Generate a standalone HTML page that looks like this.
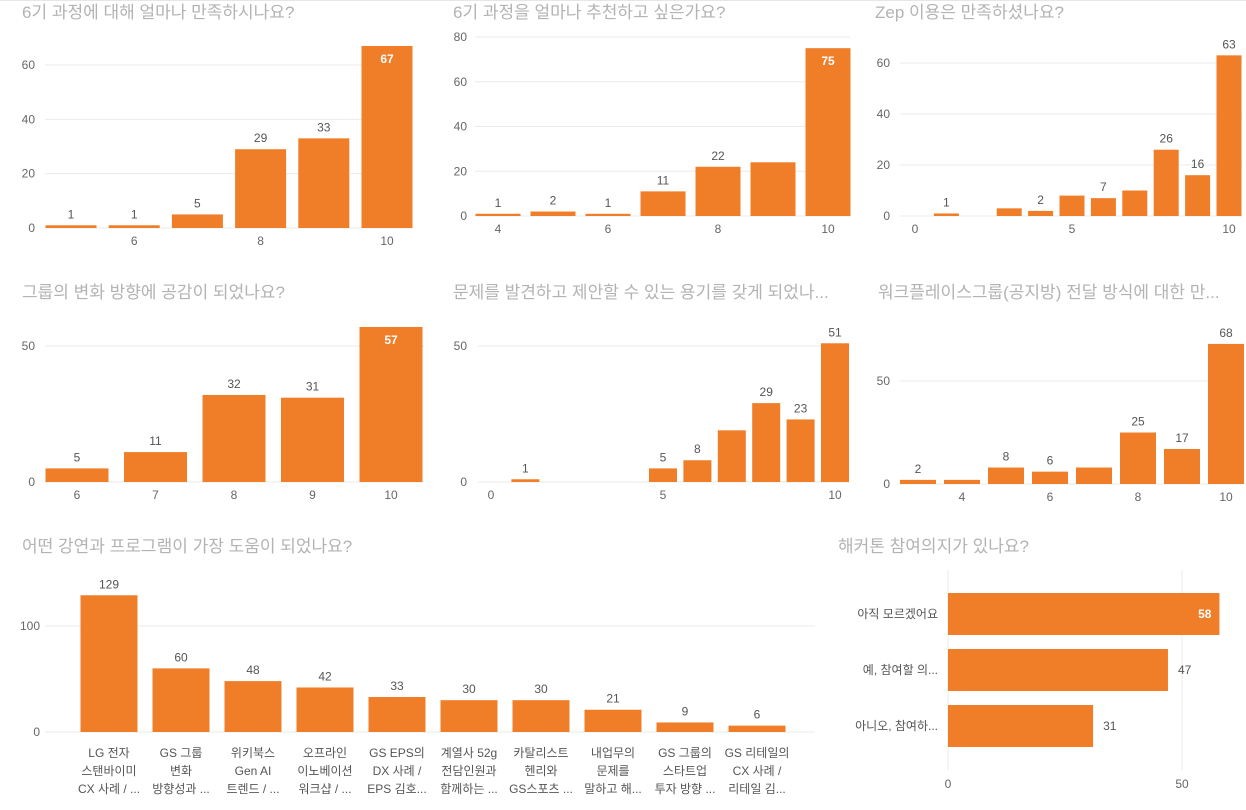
<!DOCTYPE html>
<html><head><meta charset="utf-8">
<style>
html,body{margin:0;padding:0;background:#fff;}
body{width:1246px;height:805px;overflow:hidden;font-family:"Liberation Sans","Noto Sans CJK KR",sans-serif;}
svg text{font-family:"Liberation Sans","Noto Sans CJK KR",sans-serif;}
</style></head>
<body>
<svg id="dash" width="1246" height="805" viewBox="0 0 1246 805" xmlns="http://www.w3.org/2000/svg">
<line x1="0" y1="0.5" x2="1246" y2="0.5" stroke="#e6e6e6"/>
</svg>
<script>
// ---- Chart data ----
const c1Cats = [5,6,7,8,9,10];
const c1Vals = [1,1,5,29,33,67];
const c1Ticks = [0,20,40,60];
const c1XLabels = [6,8,10];

const c2Cats = [4,5,6,7,8,9,10];
const c2Vals = [1,2,1,11,22,24,75];
const c2Show = [true,true,true,true,true,false,true];
const c2Ticks = [0,20,40,60,80];
const c2XLabels = [4,6,8,10];

const c3Cats = [0,1,2,3,4,5,6,7,8,9,10];
const c3Vals = [0,1,0,3,2,8,7,10,26,16,63];
const c3Show = [false,true,false,false,true,false,true,false,true,true,true];
const c3Ticks = [0,20,40,60];
const c3XLabels = [0,5,10];

const c4Cats = [6,7,8,9,10];
const c4Vals = [5,11,32,31,57];
const c4Ticks = [0,50];
const c4XLabels = [6,7,8,9,10];

const c5Cats = [0,1,2,3,4,5,6,7,8,9,10];
const c5Vals = [0,1,0,0,0,5,8,19,29,23,51];
const c5Show = [false,true,false,false,false,true,true,false,true,true,true];
const c5Ticks = [0,50];
const c5XLabels = [0,5,10];

const c6Cats = [3,4,5,6,7,8,9,10];
const c6Vals = [2,2,8,6,8,25,17,68];
const c6Show = [true,false,true,true,false,true,true,true];
const c6Ticks = [0,50];
const c6XLabels = [4,6,8,10];

const c7Cats = [
 ["LG 전자","스탠바이미","CX 사례 / ..."],
 ["GS 그룹","변화","방향성과 ..."],
 ["위키북스","Gen AI","트렌드 / ..."],
 ["오프라인","이노베이션","워크샵 / ..."],
 ["GS EPS의","DX 사례 /","EPS 김호..."],
 ["계열사 52g","전담인원과","함께하는 ..."],
 ["카탈리스트","헨리와","GS스포츠 ..."],
 ["내업무의","문제를","말하고 해..."],
 ["GS 그룹의","스타트업","투자 방향 ..."],
 ["GS 리테일의","CX 사례 /","리테일 김..."]];
const c7Vals = [129,60,48,42,33,30,30,21,9,6];
const c7Ticks = [0,100];

const c8Cats = ["아직 모르겠어요","예, 참여할 의...","아니오, 참여하..."];
const c8Vals = [58,47,31];
const c8Ticks = [0,50];

// ---- Drawing ----
const NS = "http://www.w3.org/2000/svg";
const svg = document.getElementById('dash');
const ORANGE = "#F07D28";
function mk(tag, attrs, txt){
  const e = document.createElementNS(NS, tag);
  for (const k in attrs) e.setAttribute(k, attrs[k]);
  if (txt !== undefined) e.textContent = txt;
  svg.appendChild(e);
  return e;
}
function title(x,y,t,name){
  const e = mk('text',{x:x,y:y,'font-size':17,fill:'#b3b3b3'},t);
  
  
}
function vbar(id, cats, vals, show, ticks, xlabels, g){
  const ys = v => g.y0 - v * g.k;
  const xs = c => g.x0 + (c - g.c0) * g.step;
  ticks.forEach(t => {
    const gl = mk('line',{x1:g.gx1,x2:g.gx2,y1:ys(t),y2:ys(t),stroke:'#ebebeb','stroke-width':1});
    
    
    const tl = mk('text',{x:g.yl,y:ys(t)+4,'font-size':12,fill:'#666','text-anchor':'end'},t);
    
    
  });
  cats.forEach((c,i) => {
    const v = vals[i];
    if (v <= 0) return;
    const r = mk('rect',{x:xs(c)-g.bw/2,y:ys(v),width:g.bw,height:v*g.k,fill:ORANGE});
    
    
    if (show && !show[i]) return;
    let inside = ys(v) < g.top;
    const lt = mk('text',{x:xs(c),y:inside?ys(v)+17:ys(v)-7,'font-size':12,'font-weight':inside?'bold':'normal',fill:inside?'#fff':'#555','text-anchor':'middle'},v);
    
    
  });
  xlabels.forEach(c => {
    const xl = mk('text',{x:xs(c),y:g.y0+17,'font-size':12,fill:'#666','text-anchor':'middle'},c);
    
    
  });
}

title(22,18,"6기 과정에 대해 얼마나 만족하시나요?","chart1-title");
vbar('c1',c1Cats,c1Vals,null,c1Ticks,c1XLabels,{x0:71,c0:5,step:63.2,bw:51,y0:228,k:163/60,gx1:45,gx2:412,yl:35,top:55});

title(453,18,"6기 과정을 얼마나 추천하고 싶은가요?","chart2-title");
vbar('c2',c2Cats,c2Vals,c2Show,c2Ticks,c2XLabels,{x0:498,c0:4,step:55,bw:45,y0:216,k:179/80,gx1:475,gx2:850,yl:467,top:55});

title(875,18,"Zep 이용은 만족하셨나요?","chart3-title");
vbar('c3',c3Cats,c3Vals,c3Show,c3Ticks,c3XLabels,{x0:915,c0:0,step:31.4,bw:25,y0:216,k:153/60,gx1:900,gx2:1242,yl:890,top:30});

title(22,298,"그룹의 변화 방향에 공감이 되었나요?","chart4-title");
vbar('c4',c4Cats,c4Vals,null,c4Ticks,c4XLabels,{x0:77,c0:6,step:78.5,bw:63,y0:482,k:136/50,gx1:45,gx2:424,yl:35,top:340});

title(453,298,"문제를 발견하고 제안할 수 있는 용기를 갖게 되었나...","chart5-title");
vbar('c5',c5Cats,c5Vals,c5Show,c5Ticks,c5XLabels,{x0:491,c0:0,step:34.4,bw:28,y0:482,k:136/50,gx1:478,gx2:850,yl:467,top:320});

title(878,298,"워크플레이스그룹(공지방) 전달 방식에 대한 만...","chart6-title");
vbar('c6',c6Cats,c6Vals,c6Show,c6Ticks,c6XLabels,{x0:918,c0:3,step:44,bw:36,y0:484,k:103/50,gx1:900,gx2:1242,yl:890,top:320});

title(22,552,"어떤 강연과 프로그램이 가장 도움이 되었나요?","chart7-title");
(function(){
  const y0=732, k=106/100, x0=109, step=72, bw=57;
  c7Ticks.forEach(t => {
    const gl = mk('line',{x1:45,x2:815,y1:y0-t*k,y2:y0-t*k,stroke:'#ebebeb'});
    
    
    const tl = mk('text',{x:40,y:y0-t*k+4,'font-size':12,fill:'#666','text-anchor':'end'},t);
    
    
  });
  c7Vals.forEach((v,i) => {
    const cx = x0 + i*step;
    const r = mk('rect',{x:cx-bw/2,y:y0-v*k,width:bw,height:v*k,fill:ORANGE});
    
    
    const lt = mk('text',{x:cx,y:y0-v*k-7,'font-size':12,fill:'#555','text-anchor':'middle'},v);
    
    
    c7Cats[i].forEach((line,j) => {
      const xl = mk('text',{x:cx,y:757+j*18,'font-size':12,fill:'#555','text-anchor':'middle'},line);
      
      
    });
  });
})();

title(838,552,"해커톤 참여의지가 있나요?","chart8-title");
(function(){
  const x0=948, k=234/50, y0=614, step=56, bh=42;
  c8Ticks.forEach(t => {
    const gl = mk('line',{x1:x0+t*k,x2:x0+t*k,y1:570,y2:770,stroke:'#ebebeb'});
    
    
    const tl = mk('text',{x:x0+t*k,y:788,'font-size':12,fill:'#666','text-anchor':'middle'},t);
    
    
  });
  c8Vals.forEach((v,i) => {
    const cy = y0 + i*step;
    const r = mk('rect',{x:x0,y:cy-bh/2,width:v*k,height:bh,fill:ORANGE});
    
    
    const inside = i===0;
    const lt = mk('text',{x:inside?x0+v*k-8:x0+v*k+10,y:cy+4,'font-size':12,'font-weight':inside?'bold':'normal',fill:inside?'#fff':'#555','text-anchor':inside?'end':'start'},v);
    
    
    const cl = mk('text',{x:938,y:cy+4,'font-size':12,fill:'#555','text-anchor':'end'},c8Cats[i]);
    
    
  });
})();
</script>
</body></html>
